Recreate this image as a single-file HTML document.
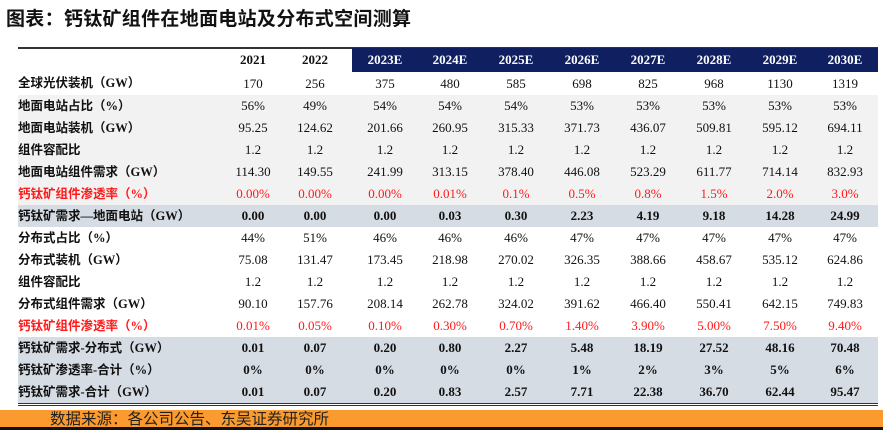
<!DOCTYPE html>
<html><head><meta charset="utf-8"><style>
*{margin:0;padding:0;box-sizing:border-box}
body{width:883px;height:430px;background:#fff;position:relative;overflow:hidden;font-family:"Liberation Serif","Noto Serif CJK SC",serif;color:#111}
.title{position:absolute;left:6px;top:4px;font:bold 19px "Liberation Sans","Noto Sans CJK SC",sans-serif;color:#111;letter-spacing:0.3px}
.hdrline{position:absolute;left:18px;width:860px;top:47px;height:2px;background:#333}
.navy{position:absolute;left:352px;width:526px;top:48px;height:24px;background:#0f1f5f}
.row{position:absolute;left:18px;width:860px;height:22px}
.cell{position:absolute;top:0;height:100%;line-height:22px;text-align:center;width:66px;font-size:13px}
.lab{position:absolute;left:0;top:0;line-height:22px;font-weight:bold;font-size:12.5px;font-family:"Liberation Serif","Noto Sans CJK SC",sans-serif;white-space:nowrap}
.b .cell{font-weight:bold}
.red .cell,.red .lab{color:#ff1a1a}
.hd .cell{font-weight:bold}
.g1{background:#f2f2f2}.g2{background:#d6dce4}
.bot{position:absolute;left:18px;width:860px;top:403px;height:1px;background:#333}
.bot2{position:absolute;left:18px;width:860px;top:405px;height:1px;background:#333}
.orange{position:absolute;left:0;width:883px;top:410px;height:17px;background:#fb9a2e;font:15.5px "Noto Sans CJK SC",sans-serif;padding-left:50px;line-height:17px;color:#222}
.black{position:absolute;left:0;width:883px;top:427px;height:3px;background:#111}
</style></head><body>
<div class="title">图表：钙钛矿组件在地面电站及分布式空间测算</div>
<div class="hdrline"></div>
<div class="navy"></div>
<div id="t"></div>
<div class="bot"></div><div class="bot2"></div>
<div class="orange">数据来源：各公司公告、东吴证券研究所</div>
<div class="black"></div>
<script>
const cx=[253,315,385,450,516,582,648,714,780,845];
const rows=[
["",["2021","2022","2023E","2024E","2025E","2026E","2027E","2028E","2029E","2030E"],"hd",48,24],
["全球光伏装机（GW）",["170","256","375","480","585","698","825","968","1130","1319"],"",72,23],
["地面电站占比（%）",["56%","49%","54%","54%","54%","53%","53%","53%","53%","53%"],"g1",95],
["地面电站装机（GW）",["95.25","124.62","201.66","260.95","315.33","371.73","436.07","509.81","595.12","694.11"],"g1",117],
["组件容配比",["1.2","1.2","1.2","1.2","1.2","1.2","1.2","1.2","1.2","1.2"],"g1",139],
["地面电站组件需求（GW）",["114.30","149.55","241.99","313.15","378.40","446.08","523.29","611.77","714.14","832.93"],"g1",161],
["钙钛矿组件渗透率（%）",["0.00%","0.00%","0.00%","0.01%","0.1%","0.5%","0.8%","1.5%","2.0%","3.0%"],"g1 red",183],
["钙钛矿需求—地面电站（GW）",["0.00","0.00","0.00","0.03","0.30","2.23","4.19","9.18","14.28","24.99"],"g2 b",205],
["分布式占比（%）",["44%","51%","46%","46%","46%","47%","47%","47%","47%","47%"],"",227],
["分布式装机（GW）",["75.08","131.47","173.45","218.98","270.02","326.35","388.66","458.67","535.12","624.86"],"",249],
["组件容配比",["1.2","1.2","1.2","1.2","1.2","1.2","1.2","1.2","1.2","1.2"],"",271],
["分布式组件需求（GW）",["90.10","157.76","208.14","262.78","324.02","391.62","466.40","550.41","642.15","749.83"],"",293],
["钙钛矿组件渗透率（%）",["0.01%","0.05%","0.10%","0.30%","0.70%","1.40%","3.90%","5.00%","7.50%","9.40%"],"red",315],
["钙钛矿需求-分布式（GW）",["0.01","0.07","0.20","0.80","2.27","5.48","18.19","27.52","48.16","70.48"],"g2 b",337],
["钙钛矿渗透率-合计（%）",["0%","0%","0%","0%","0%","1%","2%","3%","5%","6%"],"g2 b",359],
["钙钛矿需求-合计（GW）",["0.01","0.07","0.20","0.83","2.57","7.71","22.38","36.70","62.44","95.47"],"g2 b",381]];
let h="";
rows.forEach((r,i)=>{
 const ht=r[4]||22;
 h+=`<div class="row ${r[2]}" style="top:${r[3]}px;height:${ht}px"><div class="lab" style="line-height:${ht}px">${r[0]}</div>`;
 r[1].forEach((v,j)=>{h+=`<div class="cell" style="left:${cx[j]-18-33}px;line-height:${ht}px;${i==0&&j>=2?'color:#fff':''}">${v}</div>`});
 h+="</div>";
});
document.getElementById("t").innerHTML=h;
</script>
</body></html>
